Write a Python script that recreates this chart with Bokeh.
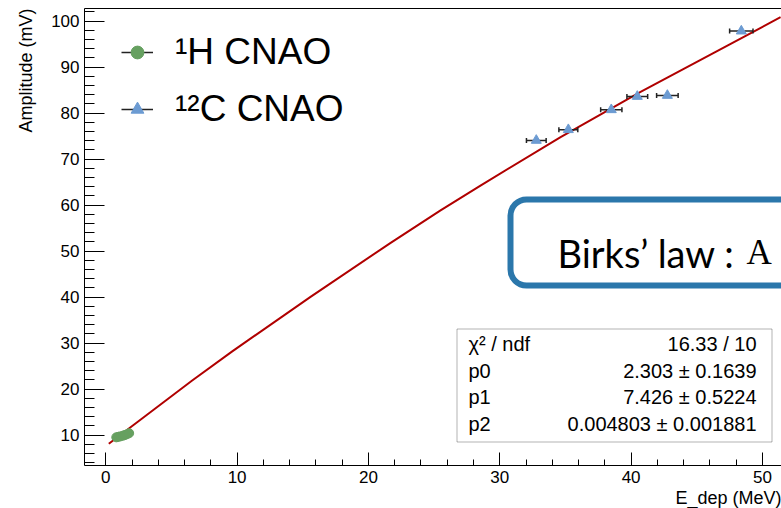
import math
from bokeh.plotting import figure
from bokeh.models import (Range1d, LinearAxis, SingleIntervalTicker, FixedTicker,
                          BoxAnnotation, Label, Legend, LegendItem, ColumnDataSource, Title)
from bokeh.embed import file_html
from bokeh.resources import INLINE

# ---------------- data ----------------
proton_E = [0.80, 0.95, 1.10, 1.30, 1.45, 1.60, 1.78]
proton_A = [9.50, 9.60, 9.70, 9.85, 10.00, 10.15, 10.40]

carbon_E = [32.78, 35.22, 38.49, 40.47, 42.76, 48.39]
carbon_A = [74.07, 76.40, 80.74, 83.63, 83.85, 97.85]
carbon_Eerr = [0.75, 0.72, 0.81, 0.79, 0.82, 0.89]

fit_E = [0.23, 6.58, 9.63, 15.59, 21.69, 25.49, 28.53, 34.63, 40.72, 51.38]
fit_A = [8.09, 21.85, 28.20, 40.05, 51.80, 58.85, 64.25, 74.80, 84.65, 100.87]

stat_keys = ["χ² / ndf", "p0", "p1", "p2"]
stat_vals = ["16.33 / 10", "2.303 ± 0.1639", "7.426 ± 0.5224", "0.004803 ± 0.001881"]

legend_labels = ["¹H CNAO", "¹²C CNAO"]
x_title = "E_dep (MeV)"
y_title = "Amplitude (mV)"
birks_text = "Birks’ law :"
birks_math = "A"

# ---------------- layout ----------------
W, H = 781, 508
FL, FR, FT, FB = 84, 781, 8, 465
X0, X1 = -1.62, 51.45
Y0, Y1 = 3.37, 102.76


def dx(px):
    return X0 + (px - FL) / (FR - FL) * (X1 - X0)


def dy(py):
    return Y0 + (FB - py) / (FB - FT) * (Y1 - Y0)


FONT = "Liberation Sans"

p = figure(width=W, height=H, output_backend="svg", toolbar_location=None,
           title=None, x_range=Range1d(X0, X1), y_range=Range1d(Y0, Y1),
           min_border_left=FL, min_border_right=W - FR, min_border_top=FT,
           min_border_bottom=H - FB)
p.outline_line_color = None
p.xgrid.visible = False
p.ygrid.visible = False
p.background_fill_color = "white"
p.border_fill_color = "white"

for ax, interval, maj, mnr in ((p.xaxis[0], 10, 13, 6), (p.yaxis[0], 10, 20, 10)):
    ax.ticker = SingleIntervalTicker(interval=interval, num_minor_ticks=5)
    ax.major_tick_in = maj
    ax.major_tick_out = 0
    ax.minor_tick_in = mnr
    ax.minor_tick_out = 0
    ax.axis_line_color = "black"
    ax.major_tick_line_color = "black"
    ax.minor_tick_line_color = "black"
    ax.major_label_text_font = FONT
    ax.major_label_text_font_size = "17px"
    ax.major_label_text_color = "black"
    ax.major_label_standoff = 5

# axis titles, aligned at the end of the axes (ROOT style)
p.add_layout(Title(text=x_title, align="right", text_font=FONT, text_font_size="18px",
                   text_font_style="normal", text_color="black", standoff=0), "below")
p.add_layout(Title(text=y_title, align="right", text_font=FONT, text_font_size="18px",
                   text_font_style="normal", text_color="black", standoff=26), "left")

# top frame line
top_ax = LinearAxis(ticker=FixedTicker(ticks=[]), major_tick_in=0, major_tick_out=0,
                    minor_tick_in=0, minor_tick_out=0, major_label_text_font_size="0px",
                    axis_line_color="black")
p.add_layout(top_ax, "above")

# ---------------- glyphs ----------------
csrc = ColumnDataSource(dict(
    E=carbon_E, A=carbon_A,
    lo=[e - d for e, d in zip(carbon_E, carbon_Eerr)],
    hi=[e + d for e, d in zip(carbon_E, carbon_Eerr)],
))
psrc = ColumnDataSource(dict(E=proton_E, A=proton_A))

p.line(fit_E, fit_A, line_color="#b00000", line_width=2, line_join="round")

r_cerr = p.segment(x0="lo", x1="hi", y0="A", y1="A", source=csrc,
                   line_color="#222222", line_width=1.5)
p.scatter(x="lo", y="A", source=csrc, marker="dash", angle=math.pi / 2, size=5,
          line_color="#222222", line_width=1.5)
p.scatter(x="hi", y="A", source=csrc, marker="dash", angle=math.pi / 2, size=5,
          line_color="#222222", line_width=1.5)
r_c = p.scatter(x="E", y="A", source=csrc, marker="triangle", size=10,
                fill_color="#6c9bd2", line_color="#6c9bd2")
r_p = p.scatter(x="E", y="A", source=psrc, marker="circle", size=9,
                fill_color="#66a060", line_color="#66a060")

# ---------------- legend ----------------
legend = Legend(items=[LegendItem(label=legend_labels[0], renderers=[r_cerr, r_p]),
                       LegendItem(label=legend_labels[1], renderers=[r_cerr, r_c])],
                location=(37, 334), orientation="vertical", padding=0, margin=0,
                spacing=13, glyph_width=32, glyph_height=44, label_height=44,
                label_standoff=22, label_text_font=FONT, label_text_font_size="37px",
                label_text_color="black", border_line_alpha=0, background_fill_alpha=0)
p.add_layout(legend)

# ---------------- Birks' law box ----------------
p.add_layout(BoxAnnotation(left=dx(510), right=dx(820), top=dy(199), bottom=dy(285),
                           line_color="#2b77ab", line_width=6, line_alpha=1,
                           fill_color="white", fill_alpha=1, border_radius=16,
                           level="annotation"))
p.add_layout(Label(x=dx(557), y=dy(252), text=birks_text, text_font="Lato",
                   text_font_size="38px", text_color="black",
                   text_baseline="alphabetic", text_align="left"))
p.add_layout(Label(x=dx(746), y=dy(252), text=birks_math, text_font="Liberation Serif",
                   text_font_size="35px", text_color="black",
                   text_baseline="alphabetic", text_align="left"))

# ---------------- stats box ----------------
p.add_layout(BoxAnnotation(left=dx(456.5), right=dx(771.5), top=dy(328.5), bottom=dy(441.5),
                           line_color="black", line_width=1, fill_color="white",
                           fill_alpha=1, level="annotation"))
row_base = [343.3, 370.0, 396.7, 423.3]
for k, v, yb in zip(stat_keys, stat_vals, row_base):
    p.add_layout(Label(x=dx(468), y=dy(yb), text=k, text_font=FONT, text_font_size="20px",
                       text_color="black", text_baseline="alphabetic", text_align="left"))
    p.add_layout(Label(x=dx(756), y=dy(yb), text=v, text_font=FONT, text_font_size="20px",
                       text_color="black", text_baseline="alphabetic", text_align="right"))

open("out.html", "w").write(file_html(p, INLINE))
